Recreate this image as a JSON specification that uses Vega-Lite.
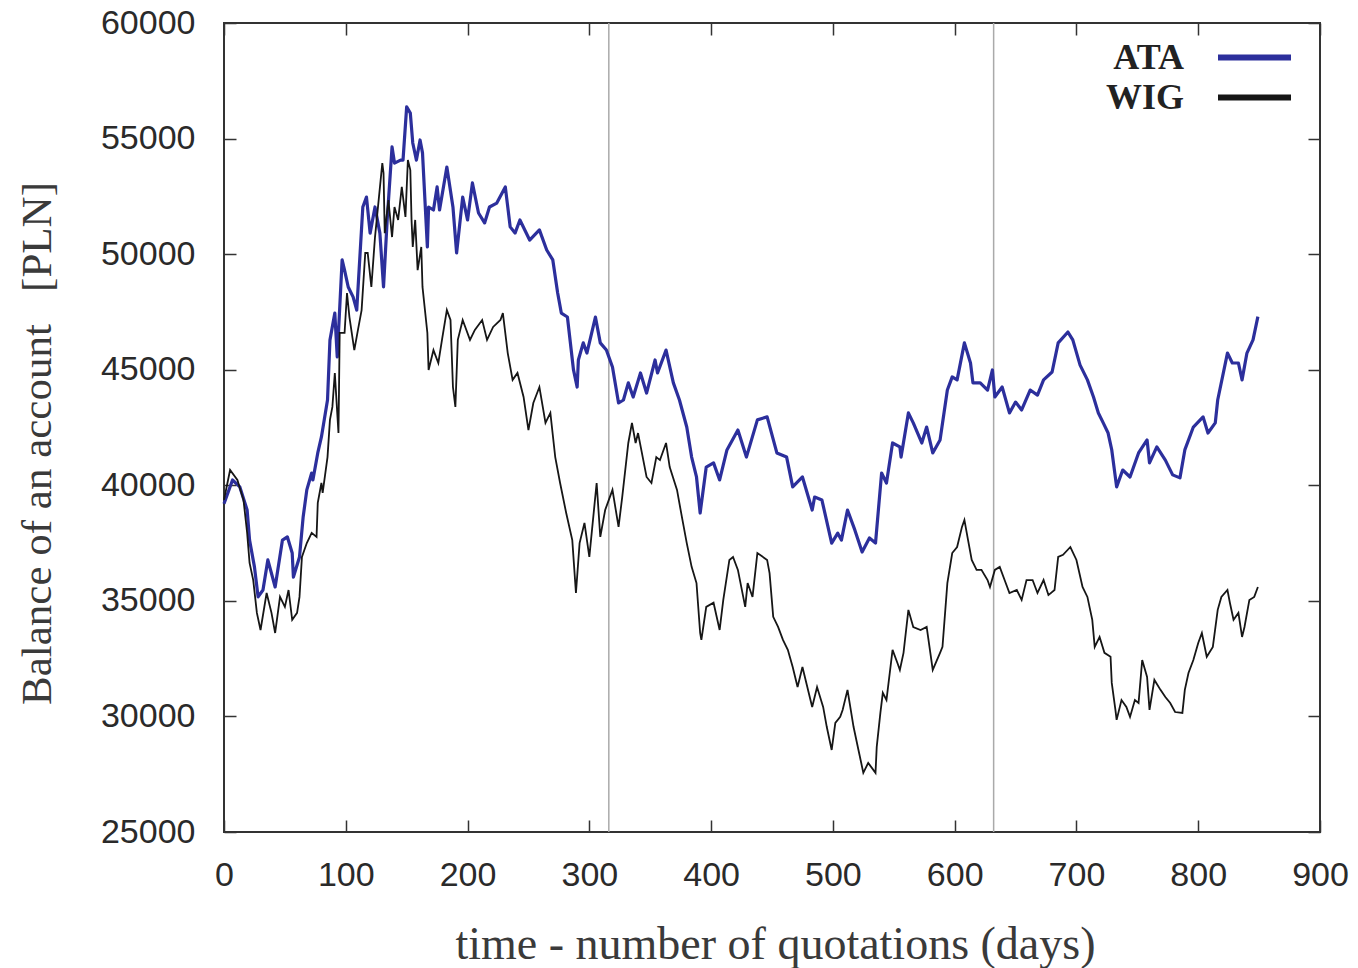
{
  "$schema": "https://vega.github.io/schema/vega-lite/v6.json",
  "width": 1096,
  "height": 809,
  "autosize": {"type": "none"},
  "padding": {"left": 224, "top": 23, "right": 38, "bottom": 136},
  "background": "white",
  "config": {
    "view": {"stroke": "#333333", "strokeWidth": 2},
    "axis": {
      "domain": false,
      "grid": false,
      "tickColor": "#333333",
      "tickWidth": 1.5,
      "tickSize": -12,
      "labelColor": "#2a2a2a",
      "labelFlush": false,
      "labelOverlap": false,
      "labelBound": false,
      "titleFont": "Liberation Serif",
      "titleFontWeight": "normal",
      "titleColor": "#3a3a3a"
    },
    "legend": {
      "orient": "none",
      "legendX": 1009,
      "legendY": 13,
      "padding": 0,
      "symbolType": "M-2,0H2",
      "symbolSize": 1332,
      "symbolStrokeWidth": 6,
      "labelFont": "Liberation Serif",
      "labelFontWeight": "bold",
      "labelFontSize": 36,
      "labelColor": "#222222",
      "labelAlign": "right",
      "labelOffset": -92,
      "rowPadding": -4,
      "title": null
    }
  },
  "datasets": {
    "series": [
      {"d":0,"s":"ATA","v":39200},{"d":7,"s":"ATA","v":40230},{"d":13,"s":"ATA","v":39930},{"d":19,"s":"ATA","v":38930},{"d":21,"s":"ATA","v":37630},{"d":25,"s":"ATA","v":36470},{"d":28,"s":"ATA","v":35170},{"d":32,"s":"ATA","v":35470},{"d":36,"s":"ATA","v":36770},{"d":42,"s":"ATA","v":35600},{"d":48,"s":"ATA","v":37630},{"d":52,"s":"ATA","v":37770},{"d":56,"s":"ATA","v":37070},{"d":57,"s":"ATA","v":36030},{"d":62,"s":"ATA","v":36900},{"d":65,"s":"ATA","v":38630},{"d":68,"s":"ATA","v":39800},{"d":72,"s":"ATA","v":40530},{"d":73,"s":"ATA","v":40230},{"d":77,"s":"ATA","v":41400},{"d":80,"s":"ATA","v":42090},{"d":85,"s":"ATA","v":43690},{"d":87,"s":"ATA","v":46280},{"d":91,"s":"ATA","v":47450},{"d":93,"s":"ATA","v":45550},{"d":97,"s":"ATA","v":49750},{"d":99,"s":"ATA","v":49310},{"d":102,"s":"ATA","v":48580},{"d":106,"s":"ATA","v":48150},{"d":109,"s":"ATA","v":47580},{"d":114,"s":"ATA","v":52040},{"d":117,"s":"ATA","v":52470},{"d":120,"s":"ATA","v":50910},{"d":124,"s":"ATA","v":52040},{"d":128,"s":"ATA","v":50910},{"d":131,"s":"ATA","v":48580},{"d":134,"s":"ATA","v":51480},{"d":138,"s":"ATA","v":54640},{"d":140,"s":"ATA","v":53940},{"d":145,"s":"ATA","v":54070},{"d":147,"s":"ATA","v":54070},{"d":150,"s":"ATA","v":56370},{"d":153,"s":"ATA","v":56100},{"d":155,"s":"ATA","v":54810},{"d":158,"s":"ATA","v":54070},{"d":161,"s":"ATA","v":54940},{"d":163,"s":"ATA","v":54380},{"d":167,"s":"ATA","v":50310},{"d":168,"s":"ATA","v":52040},{"d":172,"s":"ATA","v":51910},{"d":175,"s":"ATA","v":52910},{"d":177,"s":"ATA","v":51910},{"d":183,"s":"ATA","v":53770},{"d":188,"s":"ATA","v":52040},{"d":191,"s":"ATA","v":50050},{"d":196,"s":"ATA","v":52470},{"d":200,"s":"ATA","v":51480},{"d":204,"s":"ATA","v":53080},{"d":209,"s":"ATA","v":51780},{"d":214,"s":"ATA","v":51350},{"d":218,"s":"ATA","v":52040},{"d":224,"s":"ATA","v":52210},{"d":231,"s":"ATA","v":52910},{"d":235,"s":"ATA","v":51180},{"d":239,"s":"ATA","v":50910},{"d":243,"s":"ATA","v":51480},{"d":251,"s":"ATA","v":50610},{"d":259,"s":"ATA","v":51050},{"d":265,"s":"ATA","v":50180},{"d":270,"s":"ATA","v":49750},{"d":274,"s":"ATA","v":48320},{"d":277,"s":"ATA","v":47450},{"d":282,"s":"ATA","v":47280},{"d":287,"s":"ATA","v":44990},{"d":290,"s":"ATA","v":44250},{"d":291,"s":"ATA","v":45420},{"d":295,"s":"ATA","v":46160},{"d":298,"s":"ATA","v":45720},{"d":305,"s":"ATA","v":47280},{"d":309,"s":"ATA","v":46160},{"d":314,"s":"ATA","v":45850},{"d":319,"s":"ATA","v":45120},{"d":324,"s":"ATA","v":43560},{"d":328,"s":"ATA","v":43690},{"d":332,"s":"ATA","v":44430},{"d":336,"s":"ATA","v":43820},{"d":342,"s":"ATA","v":44860},{"d":347,"s":"ATA","v":43990},{"d":354,"s":"ATA","v":45420},{"d":356,"s":"ATA","v":44860},{"d":363,"s":"ATA","v":45850},{"d":369,"s":"ATA","v":44430},{"d":374,"s":"ATA","v":43690},{"d":380,"s":"ATA","v":42520},{"d":384,"s":"ATA","v":41220},{"d":388,"s":"ATA","v":40360},{"d":391,"s":"ATA","v":38800},{"d":396,"s":"ATA","v":40790},{"d":402,"s":"ATA","v":40970},{"d":407,"s":"ATA","v":40230},{"d":413,"s":"ATA","v":41530},{"d":422,"s":"ATA","v":42390},{"d":429,"s":"ATA","v":41220},{"d":438,"s":"ATA","v":42830},{"d":446,"s":"ATA","v":42960},{"d":454,"s":"ATA","v":41400},{"d":462,"s":"ATA","v":41220},{"d":467,"s":"ATA","v":39930},{"d":475,"s":"ATA","v":40360},{"d":483,"s":"ATA","v":38930},{"d":485,"s":"ATA","v":39490},{"d":491,"s":"ATA","v":39360},{"d":499,"s":"ATA","v":37500},{"d":504,"s":"ATA","v":37930},{"d":507,"s":"ATA","v":37630},{"d":512,"s":"ATA","v":38930},{"d":518,"s":"ATA","v":38070},{"d":524,"s":"ATA","v":37110},{"d":530,"s":"ATA","v":37720},{"d":535,"s":"ATA","v":37500},{"d":540,"s":"ATA","v":40530},{"d":544,"s":"ATA","v":40100},{"d":549,"s":"ATA","v":41830},{"d":555,"s":"ATA","v":41660},{"d":556,"s":"ATA","v":41220},{"d":562,"s":"ATA","v":43130},{"d":566,"s":"ATA","v":42700},{"d":573,"s":"ATA","v":41830},{"d":577,"s":"ATA","v":42520},{"d":582,"s":"ATA","v":41400},{"d":588,"s":"ATA","v":41960},{"d":594,"s":"ATA","v":44120},{"d":598,"s":"ATA","v":44690},{"d":602,"s":"ATA","v":44560},{"d":608,"s":"ATA","v":46160},{"d":613,"s":"ATA","v":45290},{"d":615,"s":"ATA","v":44430},{"d":621,"s":"ATA","v":44430},{"d":627,"s":"ATA","v":44120},{"d":631,"s":"ATA","v":44990},{"d":633,"s":"ATA","v":43820},{"d":639,"s":"ATA","v":44250},{"d":645,"s":"ATA","v":43130},{"d":650,"s":"ATA","v":43600},{"d":655,"s":"ATA","v":43260},{"d":662,"s":"ATA","v":44120},{"d":668,"s":"ATA","v":43900},{"d":673,"s":"ATA","v":44560},{"d":680,"s":"ATA","v":44900},{"d":685,"s":"ATA","v":46160},{"d":693,"s":"ATA","v":46630},{"d":697,"s":"ATA","v":46290},{"d":703,"s":"ATA","v":45200},{"d":709,"s":"ATA","v":44560},{"d":714,"s":"ATA","v":43820},{"d":718,"s":"ATA","v":43130},{"d":722,"s":"ATA","v":42700},{"d":726,"s":"ATA","v":42260},{"d":729,"s":"ATA","v":41530},{"d":733,"s":"ATA","v":39930},{"d":738,"s":"ATA","v":40660},{"d":744,"s":"ATA","v":40360},{"d":751,"s":"ATA","v":41400},{"d":758,"s":"ATA","v":41960},{"d":760,"s":"ATA","v":40970},{"d":766,"s":"ATA","v":41660},{"d":773,"s":"ATA","v":41090},{"d":779,"s":"ATA","v":40450},{"d":785,"s":"ATA","v":40320},{"d":789,"s":"ATA","v":41530},{"d":796,"s":"ATA","v":42520},{"d":804,"s":"ATA","v":42960},{"d":808,"s":"ATA","v":42260},{"d":814,"s":"ATA","v":42700},{"d":816,"s":"ATA","v":43690},{"d":824,"s":"ATA","v":45720},{"d":828,"s":"ATA","v":45290},{"d":833,"s":"ATA","v":45290},{"d":836,"s":"ATA","v":44560},{"d":840,"s":"ATA","v":45720},{"d":845,"s":"ATA","v":46290},{"d":849,"s":"ATA","v":47300},
      {"d":0,"s":"WIG","v":39370},{"d":5,"s":"WIG","v":40660},{"d":11,"s":"WIG","v":40230},{"d":16,"s":"WIG","v":39370},{"d":19,"s":"WIG","v":37940},{"d":21,"s":"WIG","v":36640},{"d":24,"s":"WIG","v":35900},{"d":27,"s":"WIG","v":34480},{"d":30,"s":"WIG","v":33740},{"d":35,"s":"WIG","v":35340},{"d":39,"s":"WIG","v":34480},{"d":42,"s":"WIG","v":33610},{"d":46,"s":"WIG","v":35170},{"d":50,"s":"WIG","v":34740},{"d":53,"s":"WIG","v":35470},{"d":56,"s":"WIG","v":34180},{"d":60,"s":"WIG","v":34480},{"d":62,"s":"WIG","v":35170},{"d":64,"s":"WIG","v":36900},{"d":68,"s":"WIG","v":37500},{"d":72,"s":"WIG","v":37940},{"d":76,"s":"WIG","v":37770},{"d":77,"s":"WIG","v":39240},{"d":80,"s":"WIG","v":40100},{"d":81,"s":"WIG","v":39670},{"d":85,"s":"WIG","v":41220},{"d":87,"s":"WIG","v":42830},{"d":89,"s":"WIG","v":43390},{"d":91,"s":"WIG","v":44860},{"d":94,"s":"WIG","v":42260},{"d":95,"s":"WIG","v":46590},{"d":99,"s":"WIG","v":46590},{"d":101,"s":"WIG","v":48320},{"d":103,"s":"WIG","v":47280},{"d":107,"s":"WIG","v":45850},{"d":110,"s":"WIG","v":46720},{"d":113,"s":"WIG","v":47580},{"d":116,"s":"WIG","v":50050},{"d":118,"s":"WIG","v":50050},{"d":121,"s":"WIG","v":48580},{"d":124,"s":"WIG","v":50740},{"d":127,"s":"WIG","v":52340},{"d":130,"s":"WIG","v":53940},{"d":131,"s":"WIG","v":53510},{"d":132,"s":"WIG","v":50910},{"d":135,"s":"WIG","v":52340},{"d":138,"s":"WIG","v":50740},{"d":140,"s":"WIG","v":52040},{"d":143,"s":"WIG","v":51480},{"d":146,"s":"WIG","v":52910},{"d":149,"s":"WIG","v":51610},{"d":151,"s":"WIG","v":54070},{"d":153,"s":"WIG","v":53640},{"d":154,"s":"WIG","v":51480},{"d":155,"s":"WIG","v":50310},{"d":157,"s":"WIG","v":51480},{"d":159,"s":"WIG","v":49310},{"d":162,"s":"WIG","v":50310},{"d":163,"s":"WIG","v":48580},{"d":167,"s":"WIG","v":46590},{"d":168,"s":"WIG","v":44990},{"d":172,"s":"WIG","v":45850},{"d":176,"s":"WIG","v":45290},{"d":179,"s":"WIG","v":46290},{"d":183,"s":"WIG","v":47580},{"d":186,"s":"WIG","v":47150},{"d":188,"s":"WIG","v":44250},{"d":190,"s":"WIG","v":43390},{"d":192,"s":"WIG","v":46290},{"d":196,"s":"WIG","v":47150},{"d":202,"s":"WIG","v":46290},{"d":206,"s":"WIG","v":46720},{"d":212,"s":"WIG","v":47150},{"d":216,"s":"WIG","v":46290},{"d":221,"s":"WIG","v":46850},{"d":227,"s":"WIG","v":47150},{"d":229,"s":"WIG","v":47450},{"d":233,"s":"WIG","v":45720},{"d":237,"s":"WIG","v":44560},{"d":241,"s":"WIG","v":44860},{"d":246,"s":"WIG","v":43820},{"d":250,"s":"WIG","v":42390},{"d":254,"s":"WIG","v":43560},{"d":259,"s":"WIG","v":44250},{"d":264,"s":"WIG","v":42700},{"d":268,"s":"WIG","v":43130},{"d":272,"s":"WIG","v":41220},{"d":276,"s":"WIG","v":40100},{"d":281,"s":"WIG","v":38800},{"d":286,"s":"WIG","v":37630},{"d":289,"s":"WIG","v":35340},{"d":292,"s":"WIG","v":37500},{"d":296,"s":"WIG","v":38370},{"d":300,"s":"WIG","v":36900},{"d":306,"s":"WIG","v":40100},{"d":309,"s":"WIG","v":37770},{"d":313,"s":"WIG","v":38930},{"d":319,"s":"WIG","v":39800},{"d":324,"s":"WIG","v":38200},{"d":327,"s":"WIG","v":39490},{"d":332,"s":"WIG","v":41830},{"d":335,"s":"WIG","v":42700},{"d":338,"s":"WIG","v":41830},{"d":340,"s":"WIG","v":42260},{"d":347,"s":"WIG","v":40360},{"d":351,"s":"WIG","v":40100},{"d":355,"s":"WIG","v":41220},{"d":358,"s":"WIG","v":41090},{"d":363,"s":"WIG","v":41830},{"d":366,"s":"WIG","v":40790},{"d":372,"s":"WIG","v":39800},{"d":376,"s":"WIG","v":38630},{"d":380,"s":"WIG","v":37500},{"d":384,"s":"WIG","v":36470},{"d":388,"s":"WIG","v":35770},{"d":391,"s":"WIG","v":33610},{"d":392,"s":"WIG","v":33310},{"d":396,"s":"WIG","v":34740},{"d":402,"s":"WIG","v":34920},{"d":407,"s":"WIG","v":33740},{"d":410,"s":"WIG","v":35040},{"d":415,"s":"WIG","v":36770},{"d":418,"s":"WIG","v":36900},{"d":422,"s":"WIG","v":36340},{"d":428,"s":"WIG","v":34740},{"d":430,"s":"WIG","v":35770},{"d":434,"s":"WIG","v":35170},{"d":438,"s":"WIG","v":37070},{"d":446,"s":"WIG","v":36770},{"d":448,"s":"WIG","v":36200},{"d":451,"s":"WIG","v":34310},{"d":455,"s":"WIG","v":33870},{"d":459,"s":"WIG","v":33310},{"d":463,"s":"WIG","v":32880},{"d":467,"s":"WIG","v":32140},{"d":471,"s":"WIG","v":31270},{"d":475,"s":"WIG","v":32140},{"d":483,"s":"WIG","v":30410},{"d":487,"s":"WIG","v":31270},{"d":492,"s":"WIG","v":30410},{"d":495,"s":"WIG","v":29540},{"d":499,"s":"WIG","v":28550},{"d":502,"s":"WIG","v":29720},{"d":506,"s":"WIG","v":29980},{"d":508,"s":"WIG","v":30280},{"d":512,"s":"WIG","v":31150},{"d":517,"s":"WIG","v":29540},{"d":521,"s":"WIG","v":28550},{"d":525,"s":"WIG","v":27560},{"d":529,"s":"WIG","v":27990},{"d":535,"s":"WIG","v":27560},{"d":536,"s":"WIG","v":28680},{"d":539,"s":"WIG","v":30150},{"d":541,"s":"WIG","v":31020},{"d":544,"s":"WIG","v":30710},{"d":549,"s":"WIG","v":32880},{"d":553,"s":"WIG","v":32310},{"d":555,"s":"WIG","v":32010},{"d":558,"s":"WIG","v":32750},{"d":562,"s":"WIG","v":34610},{"d":566,"s":"WIG","v":33870},{"d":572,"s":"WIG","v":33740},{"d":577,"s":"WIG","v":33870},{"d":582,"s":"WIG","v":32010},{"d":588,"s":"WIG","v":32750},{"d":590,"s":"WIG","v":33010},{"d":594,"s":"WIG","v":35770},{"d":598,"s":"WIG","v":37070},{"d":602,"s":"WIG","v":37330},{"d":606,"s":"WIG","v":38200},{"d":608,"s":"WIG","v":38500},{"d":611,"s":"WIG","v":37630},{"d":614,"s":"WIG","v":36770},{"d":618,"s":"WIG","v":36340},{"d":622,"s":"WIG","v":36340},{"d":627,"s":"WIG","v":35900},{"d":629,"s":"WIG","v":35600},{"d":633,"s":"WIG","v":36340},{"d":637,"s":"WIG","v":36470},{"d":641,"s":"WIG","v":35900},{"d":645,"s":"WIG","v":35340},{"d":651,"s":"WIG","v":35470},{"d":655,"s":"WIG","v":35040},{"d":659,"s":"WIG","v":35900},{"d":664,"s":"WIG","v":35900},{"d":668,"s":"WIG","v":35340},{"d":673,"s":"WIG","v":35900},{"d":677,"s":"WIG","v":35250},{"d":682,"s":"WIG","v":35470},{"d":685,"s":"WIG","v":36900},{"d":689,"s":"WIG","v":36990},{"d":695,"s":"WIG","v":37330},{"d":700,"s":"WIG","v":36770},{"d":705,"s":"WIG","v":35600},{"d":709,"s":"WIG","v":35170},{"d":713,"s":"WIG","v":34180},{"d":715,"s":"WIG","v":33010},{"d":719,"s":"WIG","v":33440},{"d":723,"s":"WIG","v":32750},{"d":728,"s":"WIG","v":32580},{"d":729,"s":"WIG","v":31450},{"d":732,"s":"WIG","v":30280},{"d":733,"s":"WIG","v":29850},{"d":737,"s":"WIG","v":30710},{"d":741,"s":"WIG","v":30410},{"d":744,"s":"WIG","v":29980},{"d":748,"s":"WIG","v":30710},{"d":751,"s":"WIG","v":30580},{"d":754,"s":"WIG","v":32440},{"d":758,"s":"WIG","v":31710},{"d":760,"s":"WIG","v":30280},{"d":764,"s":"WIG","v":31580},{"d":769,"s":"WIG","v":31150},{"d":773,"s":"WIG","v":30840},{"d":777,"s":"WIG","v":30580},{"d":781,"s":"WIG","v":30190},{"d":787,"s":"WIG","v":30150},{"d":789,"s":"WIG","v":31150},{"d":792,"s":"WIG","v":31880},{"d":796,"s":"WIG","v":32440},{"d":800,"s":"WIG","v":33180},{"d":803,"s":"WIG","v":33610},{"d":807,"s":"WIG","v":32580},{"d":812,"s":"WIG","v":33010},{"d":816,"s":"WIG","v":34610},{"d":819,"s":"WIG","v":35170},{"d":824,"s":"WIG","v":35470},{"d":826,"s":"WIG","v":34920},{"d":829,"s":"WIG","v":34180},{"d":833,"s":"WIG","v":34480},{"d":836,"s":"WIG","v":33440},{"d":838,"s":"WIG","v":33870},{"d":842,"s":"WIG","v":35040},{"d":846,"s":"WIG","v":35170},{"d":849,"s":"WIG","v":35600}
    ],
    "splits": [{"d": 316}, {"d": 632}]
  },
  "layer": [
    {
      "data": {"name": "splits"},
      "mark": {"type": "rule", "color": "#aaaaaa", "strokeWidth": 1.5},
      "encoding": {
        "x": {"field": "d", "type": "quantitative", "scale": {"domain": [0, 900], "nice": false}, "axis": null}
      }
    },
    {
      "data": {"name": "series"},
      "transform": [{"filter": "datum.s === 'ATA'"}],
      "mark": {"type": "line", "strokeWidth": 3.2, "strokeJoin": "round"},
      "encoding": {
        "x": {"field": "d", "type": "quantitative", "scale": {"domain": [0, 900], "nice": false},
          "axis": {"orient": "bottom", "values": [0,100,200,300,400,500,600,700,800,900], "title": "time - number of quotations (days)",
            "labelFont": "Liberation Sans", "labelFontSize": 34, "labelPadding": 38,
            "titleFontSize": 46, "titleX": 551, "titleY": 126, "titleBaseline": "alphabetic", "titleAlign": "center"}},
        "y": {"field": "v", "type": "quantitative", "scale": {"domain": [25000, 60000], "nice": false, "zero": false},
          "axis": {"orient": "left", "values": [25000,30000,35000,40000,45000,50000,55000,60000], "format": "d", "title": "Balance of an account \u00a0\u00a0[PLN]",
            "labelFont": "Liberation Sans", "labelFontSize": 34, "labelPadding": 41,
            "titleFontSize": 43, "titleAngle": -90, "titleX": -174, "titleY": 420, "titleBaseline": "alphabetic", "titleAlign": "center"}},
        "color": {"field": "s", "type": "nominal", "scale": {"domain": ["ATA", "WIG"], "range": ["#2c2f9c", "#161616"]}}
      }
    },
    {
      "data": {"name": "series"},
      "transform": [{"filter": "datum.s === 'WIG'"}],
      "mark": {"type": "line", "strokeWidth": 1.8, "strokeJoin": "miter"},
      "encoding": {
        "x": {"field": "d", "type": "quantitative", "scale": {"domain": [0, 900], "nice": false},
          "axis": {"orient": "top", "values": [0,100,200,300,400,500,600,700,800,900], "labels": false, "title": null}},
        "y": {"field": "v", "type": "quantitative", "scale": {"domain": [25000, 60000], "nice": false, "zero": false},
          "axis": {"orient": "right", "values": [25000,30000,35000,40000,45000,50000,55000,60000], "labels": false, "title": null}},
        "color": {"field": "s", "type": "nominal", "scale": {"domain": ["ATA", "WIG"], "range": ["#2c2f9c", "#161616"]}}
      }
    }
  ],
  "resolve": {"axis": {"x": "independent", "y": "independent"}}
}
